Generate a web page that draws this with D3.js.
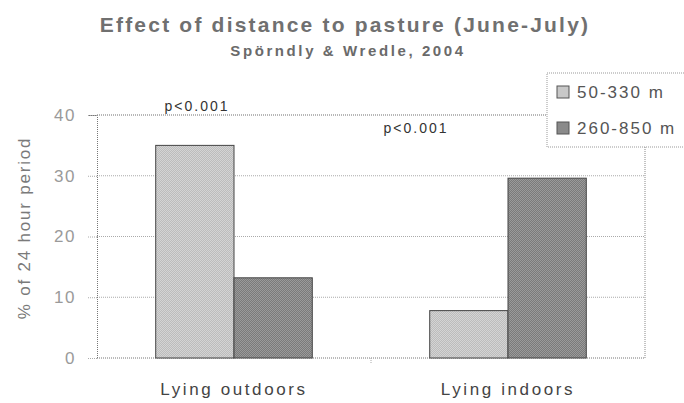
<!DOCTYPE html>
<html>
<head>
<meta charset="utf-8">
<script src="https://cdn.jsdelivr.net/npm/d3@7"></script>
<style>
  html, body { margin: 0; padding: 0; background: #fff; }
  svg { display: block; font-family: "Liberation Sans", Arial, sans-serif; }
</style>
</head>
<body>
<svg id="chart" width="684" height="403"></svg>
<script>
// ---- data ----
const categories = ["Lying outdoors", "Lying indoors"];
const seriesNames = ["50-330 m", "260-850 m"];
const shortDistance = [35, 7.8];      // 50-330 m
const longDistance = [13.2, 29.6];    // 260-850 m
const yTicks = [0, 10, 20, 30, 40];
const pLabels = ["p<0.001", "p<0.001"];

const svg = d3.select("#chart");
const plot = { left: 97, right: 645, top: 115, bottom: 358 };

// patterns to mimic stippled fills
const defs = svg.append("defs");
function checker(id, c1, c2) {
  const p = defs.append("pattern").attr("id", id).attr("width", 2).attr("height", 2)
    .attr("patternUnits", "userSpaceOnUse");
  p.append("rect").attr("width", 2).attr("height", 2).attr("fill", c1);
  p.append("rect").attr("width", 1).attr("height", 1).attr("fill", c2);
  p.append("rect").attr("x", 1).attr("y", 1).attr("width", 1).attr("height", 1).attr("fill", c2);
}
checker("pLight", "#d4d4d4", "#bcbcbc");
checker("pDark", "#9a9a9a", "#7a7a7a");
const fills = ["url(#pLight)", "url(#pDark)"];
const swatchFills = ["#c8c8c8", "#8a8a8a"];

const x0 = d3.scaleBand().domain(categories).range([plot.left, plot.right]).padding(0);
const x1 = d3.scaleBand().domain(seriesNames).range([0, x0.bandwidth()])
  .paddingInner(0).paddingOuter(0.75);
const y = d3.scaleLinear().domain([0, 40]).range([plot.bottom, plot.top]);

// title
svg.append("text").attr("x", 345).attr("y", 32).attr("text-anchor", "middle")
  .attr("font-size", 21).attr("font-weight", "bold").attr("letter-spacing", 2.2)
  .attr("fill", "#707070").text("Effect of distance to pasture (June-July)");
svg.append("text").attr("x", 348).attr("y", 56).attr("text-anchor", "middle")
  .attr("font-size", 15).attr("font-weight", "bold").attr("letter-spacing", 2.6)
  .attr("fill", "#6a6a6a").text("Spörndly & Wredle, 2004");

// gridlines
svg.append("g").selectAll("line").data(yTicks.filter(d => d > 0)).join("line")
  .attr("x1", plot.left).attr("x2", plot.right)
  .attr("y1", d => y(d)).attr("y2", d => y(d))
  .attr("stroke", "#aaa").attr("stroke-width", 1).attr("stroke-dasharray", "1,1");

// y axis via d3 axis
const yAxis = d3.axisLeft(y).tickValues(yTicks).tickSize(9).tickPadding(12);
const gy = svg.append("g").attr("transform", `translate(${plot.left},0)`).call(yAxis);
gy.select(".domain").attr("stroke", "#777").attr("stroke-dasharray", "1,1");
gy.selectAll(".tick line").attr("stroke", "#aaa").attr("stroke-dasharray", "1,1");
gy.selectAll(".tick text").attr("font-size", 17).attr("letter-spacing", 1.5)
  .attr("fill", "#9a9a9a").attr("font-family", "Liberation Sans, Arial, sans-serif");

// plot border (right + bottom)
svg.append("line").attr("x1", plot.right).attr("x2", plot.right)
  .attr("y1", 147).attr("y2", plot.bottom)
  .attr("stroke", "#888").attr("stroke-dasharray", "1,1");
svg.append("line").attr("x1", plot.left).attr("x2", plot.right)
  .attr("y1", plot.bottom).attr("y2", plot.bottom)
  .attr("stroke", "#777").attr("stroke-dasharray", "1,1");
// top border extends to legend
svg.append("line").attr("x1", plot.left).attr("x2", 547)
  .attr("y1", y(40)).attr("y2", y(40))
  .attr("stroke", "#999").attr("stroke-dasharray", "1,1");

// category separator tick
svg.append("line").attr("x1", x0(categories[1])).attr("x2", x0(categories[1]))
  .attr("y1", plot.bottom).attr("y2", plot.bottom + 6)
  .attr("stroke", "#aaa").attr("stroke-dasharray", "1,1");

// bars
const rows = categories.map((c, i) => ({ cat: c, vals: [shortDistance[i], longDistance[i]] }));
const groups = svg.append("g").selectAll("g").data(rows).join("g")
  .attr("transform", d => `translate(${x0(d.cat)},0)`);
groups.selectAll("rect").data(d => d.vals.map((v, j) => ({ s: seriesNames[j], v, j }))).join("rect")
  .attr("x", d => x1(d.s)).attr("width", x1.bandwidth())
  .attr("y", d => y(d.v)).attr("height", d => y(0) - y(d.v))
  .attr("fill", d => fills[d.j]).attr("stroke", "#444").attr("stroke-width", 1);

// x labels
svg.append("g").selectAll("text").data(categories).join("text")
  .attr("x", d => x0(d) + x0.bandwidth() / 2).attr("y", 395)
  .attr("text-anchor", "middle").attr("font-size", 17).attr("letter-spacing", 2.6)
  .attr("fill", "#444").text(d => d);

// p labels
svg.append("text").attr("x", 197).attr("y", 111).attr("text-anchor", "middle")
  .attr("font-size", 14).attr("letter-spacing", 2).attr("fill", "#333").text(pLabels[0]);
svg.append("text").attr("x", 416).attr("y", 133).attr("text-anchor", "middle")
  .attr("font-size", 14).attr("letter-spacing", 2).attr("fill", "#333").text(pLabels[1]);

// y axis title
svg.append("text").attr("transform", "translate(30,228) rotate(-90)")
  .attr("text-anchor", "middle").attr("font-size", 17).attr("letter-spacing", 1.8)
  .attr("fill", "#7a7a7a").text("% of 24 hour period");

// legend
const lg = svg.append("g");
lg.append("rect").attr("x", 547).attr("y", 73).attr("width", 160).attr("height", 74)
  .attr("fill", "#fff").attr("stroke", "#999").attr("stroke-dasharray", "1,1");
const items = lg.selectAll("g").data(seriesNames).join("g")
  .attr("transform", (d, i) => `translate(557,${92 + i * 36})`);
items.append("rect").attr("x", 0).attr("y", -6).attr("width", 12).attr("height", 12)
  .attr("fill", (d, i) => swatchFills[i]).attr("stroke", "#555");
items.append("text").attr("x", 20).attr("y", 6).attr("font-size", 17)
  .attr("letter-spacing", 2).attr("fill", "#555").text(d => d);
</script>
</body>
</html>
